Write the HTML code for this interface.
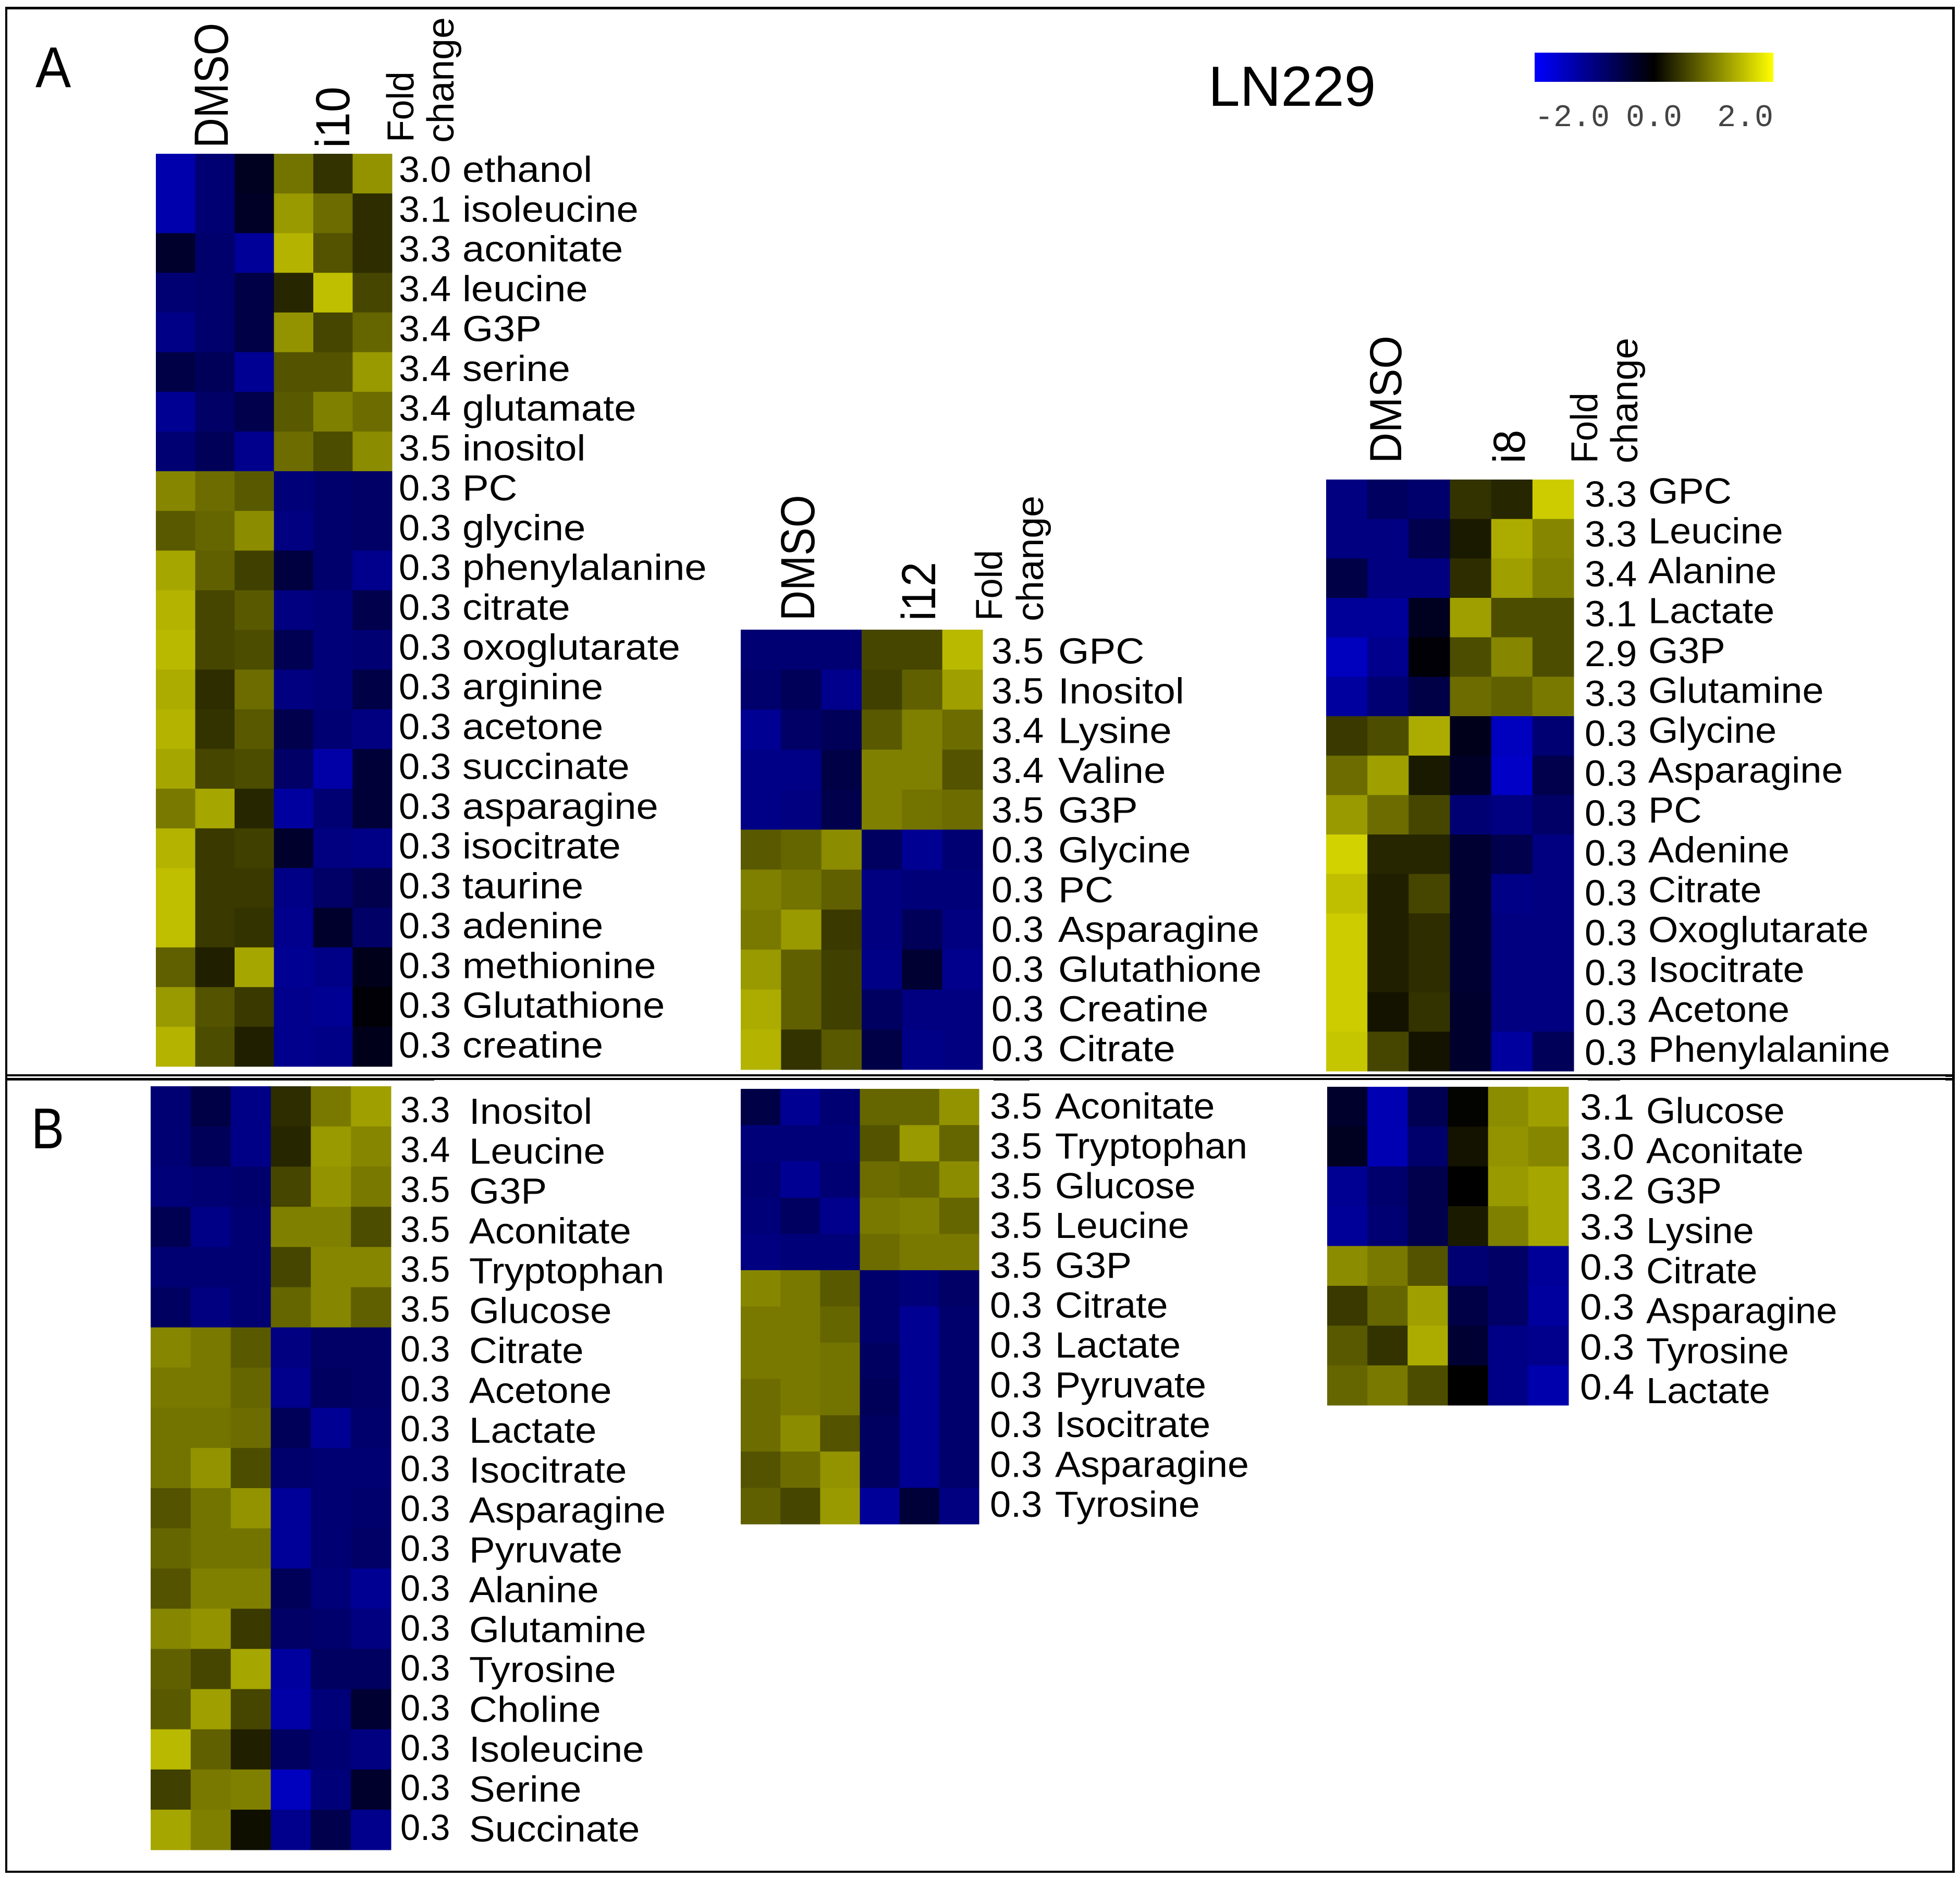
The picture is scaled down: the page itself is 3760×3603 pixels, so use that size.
<!DOCTYPE html>
<html lang="en">
<head>
<meta charset="utf-8">
<title>LN229 metabolite heatmaps</title>
<style>
html,body{margin:0;padding:0;background:#fff;}
svg{display:block;}
text{font-family:"Liberation Sans",sans-serif;fill:#000;}
</style>
</head>
<body>
<svg id="fig" xmlns="http://www.w3.org/2000/svg" width="3760" height="3603" viewBox="0 0 3760 3603">
  <defs>
    <linearGradient id="legendGrad" x1="0" x2="1" y1="0" y2="0">
      <stop offset="0" stop-color="#0000ff"/>
      <stop offset="0.5" stop-color="#000000"/>
      <stop offset="1" stop-color="#ffff00"/>
    </linearGradient>
  </defs>
  <rect x="0" y="0" width="3760" height="3603" fill="#ffffff"/>

  <g fill="#000">
    <rect x="10" y="13" width="3740" height="5"/>
    <rect x="10" y="13" width="4" height="3580"/>
    <rect x="3745" y="13" width="5" height="3580"/>
    <rect x="10" y="3589" width="3740" height="4"/>
    <rect x="10" y="2061" width="3740" height="4"/>
    <rect x="10" y="2068" width="3740" height="4"/>
    <rect x="10" y="2068" width="823" height="5"/>
    <rect x="1906" y="2070" width="69" height="3"/>
    <rect x="3046" y="2070" width="62" height="3"/>
    <rect x="3732" y="2061" width="18" height="5"/>
    <rect x="3732" y="2068" width="18" height="5"/>
  </g>

  <text transform="translate(68,167) scale(0.93,1)" font-size="110">A</text>
  <text transform="translate(60,2203) scale(0.86,1)" font-size="110">B</text>
  <text x="2318" y="203" font-size="109">LN229</text>

  <rect x="2944" y="101" width="458" height="56" fill="url(#legendGrad)"/>
  <g id="legendTicks"></g>

  <g>
    <text transform="translate(437,284) rotate(-90) scale(0.87,1)" font-size="92">DMSO</text>
    <text transform="translate(670,284) rotate(-90) scale(0.96,1)" font-size="92">i10</text>
    <text transform="translate(793,273) rotate(-90) scale(0.97,1)" font-size="72">Fold</text>
    <text transform="translate(870,274) rotate(-90) scale(1.02,1)" font-size="72">change</text>
  </g>
  <g>
    <text transform="translate(1562,1191) rotate(-90) scale(0.875,1)" font-size="92">DMSO</text>
    <text transform="translate(1794,1191) rotate(-90) scale(0.92,1)" font-size="92">i12</text>
    <text transform="translate(1922,1191) rotate(-90) scale(0.97,1)" font-size="72">Fold</text>
    <text transform="translate(2001,1192) rotate(-90) scale(1.02,1)" font-size="72">change</text>
  </g>
  <g>
    <text transform="translate(2688,889) rotate(-90) scale(0.95,1)" font-size="86">DMSO</text>
    <text transform="translate(2925,889) rotate(-90) scale(0.96,1)" font-size="86">i8</text>
    <text transform="translate(3064,889) rotate(-90) scale(0.97,1)" font-size="72">Fold</text>
    <text transform="translate(3141,889) rotate(-90) scale(1.02,1)" font-size="72">change</text>
  </g>

  <g id="heatmaps"></g>
</svg>

<script>
// ---- Legend ----
const legendValues = [-2, 0, 2];
const legendLabels = ['-2.0', '0.0', '2.0'];

// ---- Panel A, i10 ----
const aI10Names = ['ethanol','isoleucine','aconitate','leucine','G3P','serine','glutamate','inositol','PC','glycine','phenylalanine','citrate','oxoglutarate','arginine','acetone','succinate','asparagine','isocitrate','taurine','adenine','methionine','Glutathione','creatine'];
const aI10Fold = ['3.0','3.1','3.3','3.4','3.4','3.4','3.4','3.5','0.3','0.3','0.3','0.3','0.3','0.3','0.3','0.3','0.3','0.3','0.3','0.3','0.3','0.3','0.3'];
const aI10Cells = [
[-1.35,-0.9,-0.25,0.9,0.4,1.15],
[-1.35,-0.9,-0.3,1.2,0.85,0.35],
[-0.35,-0.85,-1.2,1.4,0.65,0.35],
[-0.9,-0.85,-0.55,0.3,1.5,0.55],
[-1.05,-0.85,-0.55,1.15,0.55,0.8],
[-0.55,-0.7,-1.15,0.65,0.65,1.2],
[-1.15,-0.8,-0.6,0.7,1.0,0.85],
[-0.9,-0.7,-1.1,0.85,0.6,1.1],
[1.05,0.85,0.7,-0.95,-0.85,-0.8],
[0.7,0.8,1.1,-1.0,-0.85,-0.8],
[1.3,0.75,0.5,-0.5,-0.85,-1.1],
[1.4,0.55,0.7,-1.0,-0.95,-0.6],
[1.45,0.55,0.6,-0.65,-0.95,-0.9],
[1.35,0.35,0.85,-1.0,-0.95,-0.55],
[1.4,0.4,0.7,-0.6,-0.9,-1.0],
[1.3,0.55,0.6,-0.8,-1.3,-0.45],
[0.95,1.3,0.3,-1.25,-0.9,-0.45],
[1.4,0.45,0.5,-0.35,-1.0,-1.05],
[1.5,0.45,0.45,-1.05,-0.8,-0.6],
[1.5,0.45,0.4,-1.1,-0.35,-0.8],
[0.75,0.25,1.3,-1.15,-1.05,-0.2],
[1.2,0.65,0.45,-1.1,-1.15,-0.05],
[1.4,0.6,0.25,-1.1,-1.05,-0.2]
];

// ---- Panel A, i12 ----
const aI12Names = ['GPC','Inositol','Lysine','Valine','G3P','Glycine','PC','Asparagine','Glutathione','Creatine','Citrate'];
const aI12Fold = ['3.5','3.5','3.4','3.4','3.5','0.3','0.3','0.3','0.3','0.3','0.3'];
const aI12Cells = [
[-0.9,-0.9,-0.9,0.55,0.55,1.45],
[-0.85,-0.7,-1.1,0.5,0.75,1.25],
[-1.15,-0.8,-0.7,0.7,1.0,0.85],
[-1.05,-1.05,-0.55,1.0,1.0,0.65],
[-1.05,-1.0,-0.6,1.0,0.9,0.85],
[0.7,0.8,1.1,-0.75,-1.15,-0.9],
[1.0,0.9,0.75,-1.0,-0.95,-0.95],
[0.95,1.2,0.45,-1.0,-0.7,-1.0],
[1.2,0.75,0.5,-1.05,-0.4,-1.1],
[1.35,0.75,0.5,-0.75,-1.0,-1.0],
[1.4,0.4,0.7,-0.55,-1.05,-1.0]
];

// ---- Panel A, i8 ----
const aI8Names = ['GPC','Leucine','Alanine','Lactate','G3P','Glutamine','Glycine','Asparagine','PC','Adenine','Citrate','Oxoglutarate','Isocitrate','Acetone','Phenylalanine'];
const aI8Fold = ['3.3','3.3','3.4','3.1','2.9','3.3','0.3','0.3','0.3','0.3','0.3','0.3','0.3','0.3','0.3'];
const aI8Cells = [
[-1.0,-0.75,-0.85,0.4,0.3,1.6],
[-1.0,-1.0,-0.6,0.2,1.35,1.05],
[-0.55,-1.0,-1.0,0.35,1.25,1.0],
[-1.2,-1.2,-0.25,1.25,0.6,0.6],
[-1.5,-1.1,-0.05,0.6,1.05,0.6],
[-1.25,-0.9,-0.55,0.85,0.75,0.95],
[0.45,0.6,1.35,-0.2,-1.5,-0.9],
[0.85,1.25,0.2,-0.3,-1.55,-0.6],
[1.2,0.85,0.55,-0.9,-1.0,-0.8],
[1.65,0.3,0.3,-0.4,-0.6,-1.0],
[1.5,0.25,0.55,-0.4,-1.05,-1.0],
[1.6,0.25,0.35,-0.4,-1.0,-1.0],
[1.6,0.25,0.35,-0.4,-1.0,-1.0],
[1.6,0.15,0.4,-0.35,-1.0,-1.0],
[1.55,0.55,0.15,-0.35,-1.25,-0.7]
];

// ---- Panel B, left ----
const bLeftNames = ['Inositol','Leucine','G3P','Aconitate','Tryptophan','Glucose','Citrate','Acetone','Lactate','Isocitrate','Asparagine','Pyruvate','Alanine','Glutamine','Tyrosine','Choline','Isoleucine','Serine','Succinate'];
const bLeftFold = ['3.3','3.4','3.5','3.5','3.5','3.5','0.3','0.3','0.3','0.3','0.3','0.3','0.3','0.3','0.3','0.3','0.3','0.3','0.3'];
const bLeftCells = [
[-0.9,-0.55,-1.05,0.35,0.95,1.25],
[-0.9,-0.7,-1.05,0.3,1.2,1.05],
[-0.95,-0.9,-0.85,0.55,1.15,0.95],
[-0.65,-1.05,-0.9,1.0,1.0,0.6],
[-0.9,-0.9,-0.9,0.55,1.05,1.05],
[-0.75,-1.0,-0.9,0.8,1.05,0.75],
[1.05,0.95,0.7,-1.0,-0.8,-0.8],
[0.95,0.95,0.8,-1.1,-0.75,-0.8],
[0.9,0.9,0.85,-0.7,-1.15,-0.85],
[0.9,1.15,0.6,-0.85,-0.9,-0.9],
[0.65,0.9,1.15,-1.2,-0.9,-0.85],
[0.8,0.9,0.9,-1.2,-0.9,-0.8],
[0.65,1.0,1.0,-0.7,-0.95,-1.15],
[1.05,1.15,0.45,-0.8,-0.85,-1.0],
[0.75,0.55,1.3,-1.25,-0.75,-0.75],
[0.7,1.25,0.55,-1.3,-0.95,-0.4],
[1.45,0.75,0.25,-0.75,-0.9,-1.0],
[0.5,0.95,1.0,-1.5,-0.95,-0.35],
[1.3,1.0,0.12,-1.1,-0.6,-1.1]
];

// ---- Panel B, middle (twelve heat rows beside eleven labels, as in the source) ----
const bMidNames = ['Aconitate','Tryptophan','Glucose','Leucine','G3P','Citrate','Lactate','Pyruvate','Isocitrate','Asparagine','Tyrosine'];
const bMidFold = ['3.5','3.5','3.5','3.5','3.5','0.3','0.3','0.3','0.3','0.3','0.3'];
const bMidCells = [
[-0.55,-1.15,-0.9,0.8,0.8,1.15],
[-0.95,-0.95,-0.95,0.65,1.2,0.8],
[-0.9,-1.15,-0.9,0.85,0.8,1.1],
[-0.95,-0.75,-1.1,0.95,1.0,0.8],
[-1.0,-0.95,-0.95,0.85,0.95,0.95],
[1.05,0.95,0.7,-0.85,-0.95,-0.8],
[0.95,0.95,0.8,-0.85,-1.15,-0.85],
[0.95,0.95,0.9,-0.75,-1.15,-0.85],
[0.85,0.95,0.9,-0.7,-1.15,-0.85],
[0.85,1.1,0.65,-0.75,-1.15,-0.85],
[0.65,0.85,1.15,-0.75,-1.15,-0.85],
[0.75,0.55,1.2,-1.2,-0.45,-1.0]
];

// ---- Panel B, right ----
const bRightNames = ['Glucose','Aconitate','G3P','Lysine','Citrate','Asparagine','Tyrosine','Lactate'];
const bRightFold = ['3.1','3.0','3.2','3.3','0.3','0.3','0.3','0.4'];
const bRightCells = [
[-0.35,-1.4,-0.65,0.02,1.1,1.25],
[-0.25,-1.4,-0.85,0.15,1.15,1.05],
[-1.15,-0.85,-0.6,0,1.2,1.3],
[-1.2,-0.9,-0.6,0.2,1.0,1.3],
[1.1,0.95,0.65,-0.9,-0.8,-1.2],
[0.45,0.8,1.25,-0.55,-0.8,-1.25],
[0.7,0.4,1.35,-0.4,-1.05,-1.1],
[0.8,0.95,0.6,0,-1.05,-1.35]
];

const SVGNS = 'http://www.w3.org/2000/svg';

// Colour axis: -2 blue, 0 black, +2 yellow
function colorScale(v) {
  const t = Math.min(1, Math.abs(v) / 2);
  const c = Math.round(t * 255);
  return v >= 0 ? 'rgb(' + c + ',' + c + ',0)' : 'rgb(0,0,' + c + ')';
}

function legendX(v) {
  return 2944 + (v + 2) / 4 * 458;
}

function drawLegend() {
  const host = document.getElementById('legendTicks');
  const anchors = ['start', 'middle', 'end'];
  legendValues.forEach(function (v, i) {
    const t = document.createElementNS(SVGNS, 'text');
    
    
    t.setAttribute('x', legendX(v));
    t.setAttribute('y', 242);
    t.setAttribute('text-anchor', anchors[i]);
    t.setAttribute('font-size', 60);
    t.setAttribute('style', 'font-family:"Liberation Mono",monospace;fill:#444');
    t.textContent = legendLabels[i];
    host.appendChild(t);
  });
}

function drawHeatmap(id, cells, folds, names, box, text) {
  const host = document.getElementById('heatmaps');
  const g = document.createElementNS(SVGNS, 'g');
  
  
  host.appendChild(g);

  const nRows = cells.length;
  const nCols = cells[0].length;
  const xAxis = function (c) { return box.x0 + (box.x1 - box.x0) * c / nCols; };
  const yAxis = function (r) { return box.y0 + (box.y1 - box.y0) * r / nRows; };

  cells.forEach(function (row, r) {
    row.forEach(function (v, c) {
      const rect = document.createElementNS(SVGNS, 'rect');
      
      
      rect.setAttribute('x', xAxis(c));
      rect.setAttribute('y', yAxis(r));
      rect.setAttribute('width', xAxis(c + 1) - xAxis(c) + 0.5);
      rect.setAttribute('height', yAxis(r + 1) - yAxis(r) + 0.5);
      rect.setAttribute('fill', colorScale(v));
      g.appendChild(rect);
    });
  });

  const labelY = function (i) {
    return text.first + (text.last - text.first) * i / (names.length - 1);
  };

  names.forEach(function (name, i) {
    const fold = document.createElementNS(SVGNS, 'text');
    
    
    fold.setAttribute('transform', 'translate(' + text.foldX + ',' + labelY(i) + ') scale(' + text.foldSx + ',1)');
    fold.setAttribute('font-size', 70);
    fold.textContent = folds[i];
    g.appendChild(fold);

    const label = document.createElementNS(SVGNS, 'text');
    
    
    label.setAttribute('transform', 'translate(' + text.nameX + ',' + (labelY(i) + text.nameDy) + ') scale(' + text.nameSx + ',1)');
    label.setAttribute('font-size', 70);
    label.textContent = name;
    g.appendChild(label);
  });
}

drawLegend();
drawHeatmap('heatmap-a-i10', aI10Cells, aI10Fold, aI10Names,
  {x0:299, x1:752, y0:295, y1:2046},
  {first:349, last:2029, foldX:765, foldSx:1.03, nameX:887, nameDy:0, nameSx:1.085});
drawHeatmap('heatmap-a-i12', aI12Cells, aI12Fold, aI12Names,
  {x0:1421, x1:1885, y0:1208, y1:2052},
  {first:1273, last:2036, foldX:1902, foldSx:1.03, nameX:2030, nameDy:0, nameSx:1.09});
drawHeatmap('heatmap-a-i8', aI8Cells, aI8Fold, aI8Names,
  {x0:2544, x1:3019, y0:920, y1:2055},
  {first:972, last:2043, foldX:3040, foldSx:1.03, nameX:3162, nameDy:-6, nameSx:1.055});
drawHeatmap('heatmap-b-left', bLeftCells, bLeftFold, bLeftNames,
  {x0:289, x1:750, y0:2084, y1:3549},
  {first:2153, last:3530, foldX:768, foldSx:0.98, nameX:900, nameDy:3, nameSx:1.065});
drawHeatmap('heatmap-b-middle', bMidCells, bMidFold, bMidNames,
  {x0:1421, x1:1878, y0:2089, y1:2924},
  {first:2146, last:2910, foldX:1899, foldSx:1.03, nameX:2024, nameDy:0, nameSx:1.05});
drawHeatmap('heatmap-b-right', bRightCells, bRightFold, bRightNames,
  {x0:2546, x1:3009, y0:2085, y1:2696},
  {first:2148, last:2685, foldX:3031, foldSx:1.07, nameX:3158, nameDy:7, nameSx:1.035});
</script>
</body>
</html>
